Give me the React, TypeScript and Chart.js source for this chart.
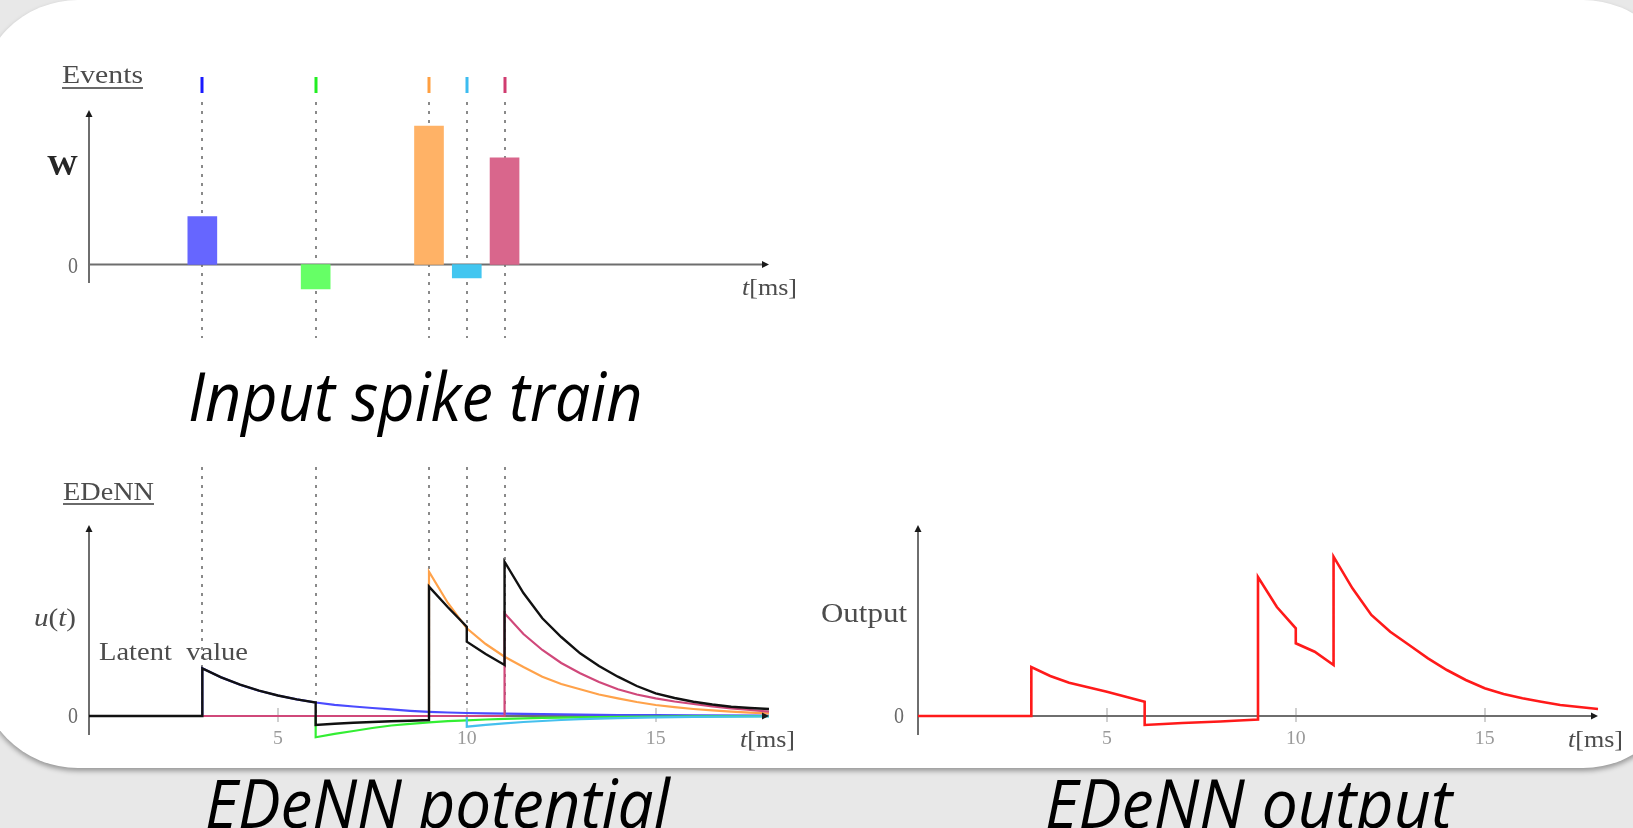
import React, { useEffect, useLayoutEffect, useRef } from 'react';
import { Chart, registerables } from 'chart.js';

Chart.register(...registerables);

// ---------------- data ----------------
const T_MIN = 0;
const T_MAX = 18;
const X_TICKS = [5, 10, 15];

const EVENT_TIMES = [3, 6, 9, 10, 11];
const EVENT_WEIGHTS = [0.48, -0.245, 1.385, -0.133, 1.067];

const BLUE_T = [0, 3, 3, 3.5, 4, 4.5, 5, 5.5, 6, 6.5, 7, 7.5, 8, 8.5, 9, 9.5, 10, 10.5, 11, 12, 13, 14, 15, 16, 18];
const BLUE_U = [0, 0, 0.477, 0.386, 0.313, 0.253, 0.205, 0.166, 0.135, 0.112, 0.095, 0.08, 0.066, 0.052, 0.042, 0.035, 0.03, 0.027, 0.024, 0.018, 0.013, 0.01, 0.008, 0.006, 0.004];

const GREEN_T = [0, 6, 6, 6.5, 7, 7.5, 8, 8.5, 9, 9.5, 10, 10.5, 11, 12, 13, 14, 15, 16, 18];
const GREEN_U = [0, 0, -0.213, -0.178, -0.15, -0.12, -0.095, -0.078, -0.064, -0.052, -0.043, -0.035, -0.028, -0.019, -0.013, -0.009, -0.006, -0.004, -0.002];

const ORANGE_T = [0, 9, 9, 9.5, 10, 10.5, 11, 11.5, 12, 12.5, 13, 13.5, 14, 14.5, 15, 15.5, 16, 16.5, 17, 17.5, 18];
const ORANGE_U = [0, 0, 1.443, 1.13, 0.877, 0.72, 0.593, 0.49, 0.393, 0.32, 0.267, 0.215, 0.177, 0.14, 0.11, 0.088, 0.07, 0.056, 0.043, 0.034, 0.027];

const CYAN_T = [0, 10, 10, 10.5, 11, 11.5, 12, 12.5, 13, 13.5, 14, 15, 16, 17, 18];
const CYAN_U = [0, 0, -0.107, -0.088, -0.073, -0.06, -0.05, -0.04, -0.032, -0.026, -0.021, -0.014, -0.009, -0.006, -0.004];

const PINK_T = [0, 11, 11, 11.5, 12, 12.5, 13, 13.5, 14, 14.5, 15, 15.5, 16, 16.5, 17, 17.5, 18];
const PINK_U = [0, 0, 1.027, 0.82, 0.66, 0.53, 0.427, 0.34, 0.267, 0.215, 0.177, 0.145, 0.12, 0.097, 0.077, 0.06, 0.043];

const LATENT_T = [0, 3, 3, 3.5, 4, 4.5, 5, 5.5, 6, 6, 6.5, 7, 7.5, 8, 8.5, 9, 9, 9.5, 10, 10, 10.5, 11, 11, 11.5, 12, 12.5, 13, 13.5, 14, 14.5, 15, 15.5, 16, 16.5, 17, 17.5, 18];
const LATENT_U = [0, 0, 0.477, 0.386, 0.313, 0.253, 0.205, 0.166, 0.135, -0.09, -0.078, -0.068, -0.06, -0.053, -0.047, -0.04, 1.293, 1.087, 0.893, 0.743, 0.62, 0.51, 1.543, 1.23, 0.977, 0.79, 0.627, 0.5, 0.393, 0.3, 0.227, 0.18, 0.143, 0.115, 0.093, 0.08, 0.07];

const OUTPUT_T = [0, 3, 3, 3.5, 4, 4.5, 5, 5.5, 6, 6, 6.5, 7, 7.5, 8, 8.5, 9, 9, 9.5, 10, 10, 10.5, 11, 11, 11.5, 12, 12.5, 13, 13.5, 14, 14.5, 15, 15.5, 16, 16.5, 17, 17.5, 18];
const OUTPUT_V = [0, 0, 0.49, 0.4, 0.333, 0.287, 0.243, 0.193, 0.143, -0.09, -0.08, -0.07, -0.063, -0.055, -0.045, -0.035, 1.39, 1.09, 0.877, 0.727, 0.643, 0.51, 1.593, 1.277, 1.01, 0.843, 0.71, 0.577, 0.46, 0.36, 0.277, 0.22, 0.177, 0.143, 0.11, 0.09, 0.07];

// ---------------- styles ----------------
const EVENT_BAR_COLORS = ['rgb(102,102,255)', 'rgb(102,255,102)', 'rgb(255,178,102)', 'rgb(66,198,240)', 'rgb(217,102,140)'];
const EVENT_MARK_COLORS = ['#1a1aff', '#22ee22', '#ff9f40', '#3cbcf0', '#d03c70'];
const SERIF = '"Liberation Serif", "DejaVu Serif", serif';
const AXIS = '#6e6e6e';
const TEXT = '#4c4c4c';

type Part = { text: string; font: string };

function fitText(ctx: CanvasRenderingContext2D, parts: Part[], left: number, baseline: number, width: number, color: string) {
  ctx.save();
  ctx.textBaseline = 'alphabetic';
  ctx.textAlign = 'left';
  let total = 0;
  const widths = parts.map((p) => {
    ctx.font = p.font;
    const w = ctx.measureText(p.text).width;
    total += w;
    return w;
  });
  const s = width / total;
  ctx.translate(left, baseline);
  ctx.scale(s, 1);
  ctx.fillStyle = color;
  let x = 0;
  parts.forEach((p, i) => {
    ctx.font = p.font;
    ctx.fillText(p.text, x, 0);
    x += widths[i];
  });
  ctx.restore();
}

function arrowRight(ctx: CanvasRenderingContext2D, x: number, y: number) {
  ctx.beginPath();
  ctx.moveTo(x, y);
  ctx.lineTo(x - 7, y - 3.5);
  ctx.lineTo(x - 7, y + 3.5);
  ctx.closePath();
  ctx.fill();
}
function arrowUp(ctx: CanvasRenderingContext2D, x: number, y: number) {
  ctx.beginPath();
  ctx.moveTo(x, y);
  ctx.lineTo(x - 3.5, y + 7);
  ctx.lineTo(x + 3.5, y + 7);
  ctx.closePath();
  ctx.fill();
}

function tmsLabel(ctx: CanvasRenderingContext2D, left: number, baseline: number) {
  fitText(ctx, [{ text: 't', font: `italic 24px ${SERIF}` }, { text: '[ms]', font: `24px ${SERIF}` }], left, baseline, 55, TEXT);
}

function drawDotted(chart: any, yTop: number, yBottom: number) {
  const { ctx, scales } = chart;
  ctx.save();
  ctx.strokeStyle = '#8a8a8a';
  ctx.lineWidth = 2;
  ctx.setLineDash([3, 6]);
  EVENT_TIMES.forEach((t) => {
    const px = Math.round(scales.x.getPixelForValue(t));
    ctx.beginPath();
    ctx.moveTo(px, yTop);
    ctx.lineTo(px, yBottom);
    ctx.stroke();
  });
  ctx.restore();
}

function drawAxes(chart: any, yTop: number, yBottom: number, withTicks: boolean) {
  const { ctx, scales } = chart;
  const x0 = scales.x.getPixelForValue(T_MIN);
  const xEnd = scales.x.getPixelForValue(T_MAX);
  const y0 = scales.y.getPixelForValue(0);
  ctx.save();
  if (withTicks) {
    ctx.strokeStyle = '#d0d0d0';
    ctx.lineWidth = 2;
    X_TICKS.forEach((t) => {
      const px = Math.round(scales.x.getPixelForValue(t));
      ctx.beginPath();
      ctx.moveTo(px, y0 - 8);
      ctx.lineTo(px, y0 + 6);
      ctx.stroke();
    });
  }
  ctx.strokeStyle = AXIS;
  ctx.lineWidth = 2;
  ctx.beginPath();
  ctx.moveTo(x0, yBottom);
  ctx.lineTo(x0, yTop + 3);
  ctx.stroke();
  ctx.beginPath();
  ctx.moveTo(x0, y0);
  ctx.lineTo(xEnd - 3, y0);
  ctx.stroke();
  ctx.restore();
}

function drawArrows(chart: any, yTop: number) {
  const { ctx, scales } = chart;
  const x0 = scales.x.getPixelForValue(T_MIN);
  const xEnd = scales.x.getPixelForValue(T_MAX);
  const y0 = scales.y.getPixelForValue(0);
  ctx.save();
  ctx.fillStyle = '#1a1a1a';
  arrowRight(ctx, xEnd, y0);
  arrowUp(ctx, x0, yTop);
  ctx.restore();
}

function drawTickLabels(chart: any, baseline: number) {
  const { ctx, scales } = chart;
  ctx.save();
  ctx.font = `18px ${SERIF}`;
  ctx.fillStyle = '#9a9a9a';
  ctx.textAlign = 'center';
  ctx.textBaseline = 'alphabetic';
  X_TICKS.forEach((t) => {
    const px = scales.x.getPixelForValue(t);
    ctx.save();
    ctx.translate(px, baseline);
    ctx.scale(1.1, 1);
    ctx.fillText(String(t), 0, 0);
    ctx.restore();
  });
  ctx.restore();
}

// ---------------- plugins ----------------
const topPlugin = {
  id: 'topDecor',
  beforeDatasetsDraw(chart: any) {
    drawDotted(chart, 102, 338);
    drawAxes(chart, 110, 283, false);
  },
  afterDatasetsDraw(chart: any) {
    const { ctx, scales } = chart;
    drawArrows(chart, 110);
    ctx.save();
    EVENT_TIMES.forEach((t, i) => {
      const px = scales.x.getPixelForValue(t);
      ctx.fillStyle = EVENT_MARK_COLORS[i];
      ctx.fillRect(Math.round(px) - 1.5, 77, 3, 16);
    });
    ctx.fillStyle = '#6a6a6a';
    ctx.fillRect(62, 87, 81, 2);
    ctx.restore();
    fitText(ctx, [{ text: 'Events', font: `25px ${SERIF}` }], 62, 83, 81, TEXT);
    fitText(ctx, [{ text: 'W', font: `bold 30px ${SERIF}` }], 47, 175, 31, '#262626');
    fitText(ctx, [{ text: '0', font: `23px ${SERIF}` }], 68, 273, 10, '#6a6a6a');
    tmsLabel(ctx, 742, 295);
  },
};

const potentialPlugin = {
  id: 'potentialDecor',
  beforeDatasetsDraw(chart: any) {
    drawDotted(chart, 27, 276);
    drawAxes(chart, 85, 295, true);
  },
  afterDatasetsDraw(chart: any) {
    const { ctx } = chart;
    drawArrows(chart, 85);
    ctx.save();
    ctx.fillStyle = '#6a6a6a';
    ctx.fillRect(63, 63, 91, 2);
    ctx.restore();
    fitText(ctx, [{ text: 'EDeNN', font: `25px ${SERIF}` }], 63, 60, 91, TEXT);
    fitText(
      ctx,
      [
        { text: 'u', font: `italic 26px ${SERIF}` },
        { text: '(', font: `26px ${SERIF}` },
        { text: 't', font: `italic 26px ${SERIF}` },
        { text: ')', font: `26px ${SERIF}` },
      ],
      34,
      186,
      42,
      TEXT
    );
    fitText(ctx, [{ text: 'Latent  value', font: `26px ${SERIF}` }], 99, 220, 149, TEXT);
    fitText(ctx, [{ text: '0', font: `23px ${SERIF}` }], 68, 283, 10, '#6a6a6a');
    drawTickLabels(chart, 304);
    tmsLabel(ctx, 740, 307);
  },
};

const outputPlugin = {
  id: 'outputDecor',
  beforeDatasetsDraw(chart: any) {
    drawAxes(chart, 85, 295, true);
  },
  afterDatasetsDraw(chart: any) {
    const { ctx } = chart;
    drawArrows(chart, 85);
    fitText(ctx, [{ text: 'Output', font: `27px ${SERIF}` }], 1, 182, 86, TEXT);
    fitText(ctx, [{ text: '0', font: `23px ${SERIF}` }], 74, 283, 10, '#6a6a6a');
    drawTickLabels(chart, 304);
    tmsLabel(ctx, 748, 307);
  },
};

// ---------------- configs ----------------
const pts = (t: number[], v: number[]) => t.map((x, i) => ({ x, y: v[i] }));

const lineDs = (t: number[], v: number[], color: string, width: number) => ({
  data: pts(t, v),
  borderColor: color,
  borderWidth: width,
  pointRadius: 0,
  fill: false,
  tension: 0,
  clip: false as any,
});

const baseOptions = (padding: any, yMin: number, yMax: number) => ({
  animation: false as const,
  responsive: false,
  maintainAspectRatio: false,
  devicePixelRatio: 1,
  layout: { padding },
  events: [] as any[],
  scales: {
    x: { type: 'linear' as const, min: T_MIN, max: T_MAX, display: false, offset: false },
    y: { type: 'linear' as const, min: yMin, max: yMax, display: false },
  },
  plugins: { legend: { display: false }, tooltip: { enabled: false } },
});

function spikeConfig(): any {
  return {
    type: 'bar',
    data: {
      datasets: [
        {
          data: pts(EVENT_TIMES, EVENT_WEIGHTS),
          backgroundColor: EVENT_BAR_COLORS,
          borderWidth: 0,
          barThickness: 29,
        },
      ],
    },
    options: baseOptions({ left: 89, right: 51, top: 69.5, bottom: 0.5 }, -0.95, 1.95),
    plugins: [topPlugin],
  };
}

function potentialConfig(): any {
  return {
    type: 'line',
    data: {
      datasets: [
        lineDs(LATENT_T, LATENT_U, '#111111', 2.4),
        lineDs(PINK_T, PINK_U, '#d0487a', 2.2),
        lineDs(CYAN_T, CYAN_U, '#45c0ee', 2.2),
        lineDs(ORANGE_T, ORANGE_U, '#ffa24a', 2.2),
        lineDs(GREEN_T, GREEN_U, '#33ee33', 2.2),
        lineDs(BLUE_T, BLUE_U, '#4b4bff', 2.2),
      ],
    },
    options: baseOptions({ left: 89, right: 51, top: 46, bottom: 4 }, -0.4, 2.3),
    plugins: [potentialPlugin],
  };
}

function outputConfig(): any {
  return {
    type: 'line',
    data: { datasets: [lineDs(OUTPUT_T, OUTPUT_V, '#ff1a1a', 2.6)] },
    options: baseOptions({ left: 98, right: 35, top: 46, bottom: 4 }, -0.4, 2.3),
    plugins: [outputPlugin],
  };
}

// ---------------- components ----------------
function BigLabel({ text, left, baseline, width }: { text: string; left: number; baseline: number; width: number }) {
  const ref = useRef<HTMLSpanElement>(null);
  useLayoutEffect(() => {
    const el = ref.current;
    if (!el) return;
    el.style.transform = 'none';
    const w = el.offsetWidth;
    if (w > 0) el.style.transform = `scaleX(${width / w})`;
  }, [text, width]);
  const size = 67;
  return (
    <div
      style={{
        position: 'absolute',
        left,
        top: baseline - 59.5,
        whiteSpace: 'nowrap',
        lineHeight: `${size}px`,
        fontSize: size,
        fontStyle: 'italic',
        fontFamily: '"Open Sans", "Noto Sans", sans-serif',
        color: '#000',
      }}
    >
      <span ref={ref} style={{ display: 'inline-block', transformOrigin: '0 0' }}>
        {text}
      </span>
    </div>
  );
}

export default function App() {
  const c1 = useRef<HTMLCanvasElement>(null);
  const c2 = useRef<HTMLCanvasElement>(null);
  const c3 = useRef<HTMLCanvasElement>(null);

  useEffect(() => {
    document.body.style.margin = '0';
    const charts = [
      new Chart(c1.current as HTMLCanvasElement, spikeConfig()),
      new Chart(c2.current as HTMLCanvasElement, potentialConfig()),
      new Chart(c3.current as HTMLCanvasElement, outputConfig()),
    ];
    return () => charts.forEach((c) => c.destroy());
  }, []);

  return (
    <div style={{ position: 'fixed', left: 0, top: 0, width: 1633, height: 828, overflow: 'hidden', background: '#e8e8e8' }}>
      <div
        style={{
          position: 'absolute',
          left: -22,
          top: 0,
          width: 1705,
          height: 768,
          background: '#ffffff',
          borderRadius: 100,
          boxShadow: '0 3px 5px rgba(0,0,0,0.35)',
        }}
      />
      <canvas ref={c1} width={820} height={360} style={{ position: 'absolute', left: 0, top: 0 }} />
      <canvas ref={c2} width={820} height={320} style={{ position: 'absolute', left: 0, top: 440 }} />
      <canvas ref={c3} width={813} height={320} style={{ position: 'absolute', left: 820, top: 440 }} />
      <BigLabel text="Input spike train" left={188} baseline={421} width={455} />
      <BigLabel text="EDeNN potential" left={205} baseline={828} width={465} />
      <BigLabel text="EDeNN output" left={1045} baseline={828} width={407} />
    </div>
  );
}
